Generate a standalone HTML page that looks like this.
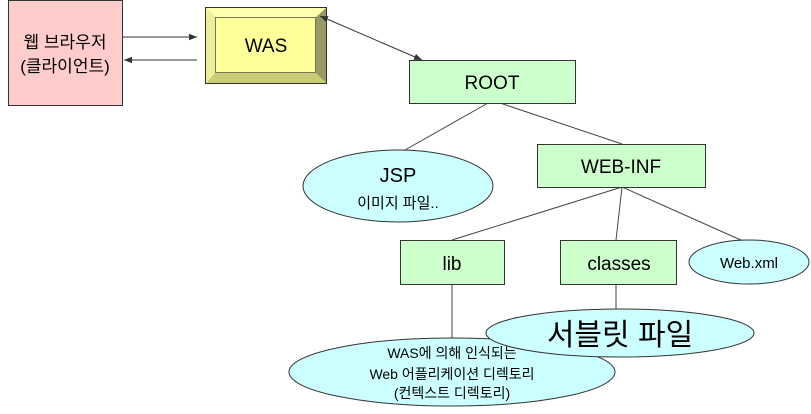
<!DOCTYPE html>
<html><head><meta charset="utf-8"><style>
body{margin:0;background:#fff;}
text{font-family:"Liberation Sans","Noto Sans CJK KR",sans-serif;fill:#000;}
</style></head><body>
<svg width="811" height="409" xmlns="http://www.w3.org/2000/svg">
<defs>
<marker id="a" viewBox="0 0 10 10" refX="10" refY="5" markerWidth="8" markerHeight="8" orient="auto-start-reverse"><path d="M0,1 L10,5 L0,9z" fill="#333"/></marker>
</defs>
<rect x="8.5" y="0.5" width="114" height="105" fill="#ffcccc" stroke="#333"/>
<text x="65" y="48" font-size="17" text-anchor="middle" fill="#222">웹 브라우저</text>
<text x="65" y="72" font-size="17" text-anchor="middle" fill="#222">(클라이언트)</text>
<line x1="123" y1="37" x2="197" y2="37" stroke="#333" marker-end="url(#a)"/>
<line x1="197" y1="60" x2="124" y2="60" stroke="#333" marker-end="url(#a)"/>
<rect x="205.5" y="7.5" width="121" height="76" fill="#ffff99" stroke="#333"/>
<polygon points="206,8 326,8 316,17 215,17" fill="#ffffb0"/>
<polygon points="326,8 326,83 316,73 316,17" fill="#999966"/>
<polygon points="206,83 326,83 316,73 215,73" fill="#cccc77"/>
<polygon points="206,8 215,17 215,73 206,83" fill="#eeee99"/>
<rect x="215.5" y="17.5" width="100" height="55" fill="#ffff99" stroke="#777755"/>
<rect x="205.5" y="7.5" width="121" height="76" fill="none" stroke="#333"/>
<text x="266" y="52" font-size="19" text-anchor="middle">WAS</text>
<line x1="320" y1="16" x2="422" y2="60" stroke="#333" marker-start="url(#a)" marker-end="url(#a)"/>
<g stroke="#444" fill="none">
<line x1="488" y1="103" x2="405" y2="150"/>
<line x1="500" y1="103" x2="622" y2="144"/>
<line x1="622" y1="187" x2="452" y2="240"/>
<line x1="622" y1="187" x2="616" y2="240"/>
<line x1="622" y1="187" x2="743" y2="241"/>
<line x1="452" y1="284" x2="452" y2="340"/>
<line x1="616" y1="284" x2="616" y2="310"/>
</g>
<rect x="409.5" y="60.5" width="166" height="43" fill="#ccffcc" stroke="#333"/>
<text x="492" y="89" font-size="19" text-anchor="middle">ROOT</text>
<ellipse cx="398" cy="186" rx="95" ry="36" fill="#ccffff" stroke="#333"/>
<text x="398" y="182" font-size="20" text-anchor="middle">JSP</text>
<text x="398" y="208" font-size="15" text-anchor="middle">이미지 파일..</text>
<rect x="537.5" y="144.5" width="168" height="43" fill="#ccffcc" stroke="#333"/>
<text x="621" y="173" font-size="19" text-anchor="middle">WEB-INF</text>
<rect x="400.5" y="240.5" width="104" height="44" fill="#ccffcc" stroke="#333"/>
<text x="452" y="270" font-size="19" text-anchor="middle">lib</text>
<rect x="560.5" y="240.5" width="116" height="44" fill="#ccffcc" stroke="#333"/>
<text x="619" y="270" font-size="19" text-anchor="middle">classes</text>
<ellipse cx="749" cy="262" rx="60" ry="22" fill="#ccffff" stroke="#333"/>
<text x="749" y="268" font-size="15" text-anchor="middle">Web.xml</text>
<ellipse cx="452" cy="372" rx="163" ry="34" fill="#ccffff" stroke="#333"/>
<text x="452" y="358" font-size="14" text-anchor="middle">WAS에 의해 인식되는</text>
<text x="452" y="379" font-size="14" text-anchor="middle">Web 어플리케이션 디렉토리</text>
<text x="452" y="398" font-size="14" text-anchor="middle">(컨텍스트 디렉토리)</text>
<ellipse cx="620" cy="333" rx="134" ry="24" fill="#ccffff" stroke="#333"/>
<text x="620" y="345" font-size="30" text-anchor="middle">서블릿 파일</text>
</svg>
</body></html>
